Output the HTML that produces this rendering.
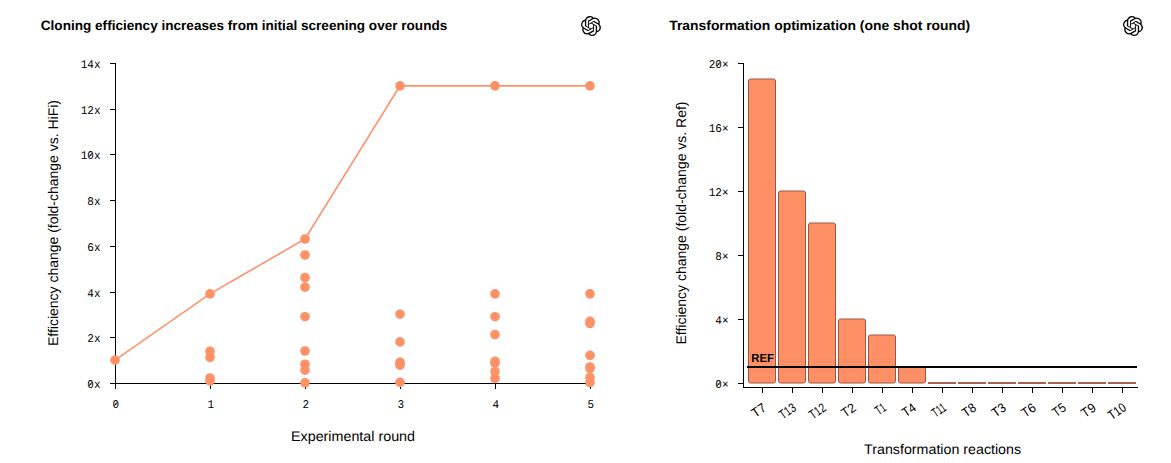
<!DOCTYPE html><html><head><meta charset="utf-8"><style>html,body{margin:0;padding:0;background:#fff;}svg{display:block;text-rendering:geometricPrecision;}</style></head><body>
<svg width="1171" height="463" viewBox="0 0 1171 463">
<rect width="1171" height="463" fill="#fff"/>
<text x="40.8" y="29.8" font-family='"Liberation Sans", sans-serif' font-weight="bold" font-size="13.5" fill="#000" textLength="406.5" lengthAdjust="spacingAndGlyphs">Cloning efficiency increases from initial screening over rounds</text>
<text x="669.2" y="29.8" font-family='"Liberation Sans", sans-serif' font-weight="bold" font-size="13.5" fill="#000" textLength="301" lengthAdjust="spacingAndGlyphs">Transformation optimization (one shot round)</text>
<g transform="translate(581,16) scale(0.8333)"><path d="M22.2819 9.8211a5.9847 5.9847 0 0 0-.5157-4.9108 6.0462 6.0462 0 0 0-6.5098-2.9A6.0651 6.0651 0 0 0 4.9807 4.1818a5.9847 5.9847 0 0 0-3.9977 2.9 6.0462 6.0462 0 0 0 .7427 7.0966 5.98 5.98 0 0 0 .511 4.9107 6.051 6.051 0 0 0 6.5146 2.9001A5.9847 5.9847 0 0 0 13.2599 24a6.0557 6.0557 0 0 0 5.7718-4.2058 5.9894 5.9894 0 0 0 3.9977-2.9001 6.0557 6.0557 0 0 0-.7475-7.0729zm-9.022 12.6081a4.4755 4.4755 0 0 1-2.8764-1.0408l.1419-.0804 4.7783-2.7582a.7948.7948 0 0 0 .3927-.6813v-6.7369l2.02 1.1686a.071.071 0 0 1 .038.052v5.5826a4.504 4.504 0 0 1-4.4945 4.4944zm-9.6607-4.1254a4.4708 4.4708 0 0 1-.5346-3.0137l.142.0852 4.783 2.7582a.7712.7712 0 0 0 .7806 0l5.8428-3.3685v2.3324a.0804.0804 0 0 1-.0332.0615L9.74 19.9502a4.4992 4.4992 0 0 1-6.1408-1.6464zM2.3408 7.8956a4.485 4.485 0 0 1 2.3655-1.9728V11.6a.7664.7664 0 0 0 .3879.6765l5.8144 3.3543-2.0201 1.1685a.0757.0757 0 0 1-.071 0l-4.8303-2.7865A4.504 4.504 0 0 1 2.3408 7.872zm16.5963 3.8558L13.1038 8.364 15.1192 7.2a.0757.0757 0 0 1 .071 0l4.8303 2.7913a4.4944 4.4944 0 0 1-.6765 8.1042v-5.6772a.79.79 0 0 0-.407-.667zm2.0107-3.0231l-.142-.0852-4.7735-2.7818a.7759.7759 0 0 0-.7854 0L9.409 9.2297V6.8974a.0662.0662 0 0 1 .0284-.0615l4.8303-2.7866a4.4992 4.4992 0 0 1 6.6802 4.66zM8.3065 12.863l-2.02-1.1638a.0804.0804 0 0 1-.038-.0567V6.0742a4.4992 4.4992 0 0 1 7.3757-3.4537l-.142.0805L8.704 5.459a.7948.7948 0 0 0-.3927.6813zm1.0976-2.3654l2.602-1.4998 2.6069 1.4998v2.9994l-2.5974 1.4997-2.6067-1.4997Z" fill="#000"/></g>
<g transform="translate(1123,16) scale(0.8333)"><path d="M22.2819 9.8211a5.9847 5.9847 0 0 0-.5157-4.9108 6.0462 6.0462 0 0 0-6.5098-2.9A6.0651 6.0651 0 0 0 4.9807 4.1818a5.9847 5.9847 0 0 0-3.9977 2.9 6.0462 6.0462 0 0 0 .7427 7.0966 5.98 5.98 0 0 0 .511 4.9107 6.051 6.051 0 0 0 6.5146 2.9001A5.9847 5.9847 0 0 0 13.2599 24a6.0557 6.0557 0 0 0 5.7718-4.2058 5.9894 5.9894 0 0 0 3.9977-2.9001 6.0557 6.0557 0 0 0-.7475-7.0729zm-9.022 12.6081a4.4755 4.4755 0 0 1-2.8764-1.0408l.1419-.0804 4.7783-2.7582a.7948.7948 0 0 0 .3927-.6813v-6.7369l2.02 1.1686a.071.071 0 0 1 .038.052v5.5826a4.504 4.504 0 0 1-4.4945 4.4944zm-9.6607-4.1254a4.4708 4.4708 0 0 1-.5346-3.0137l.142.0852 4.783 2.7582a.7712.7712 0 0 0 .7806 0l5.8428-3.3685v2.3324a.0804.0804 0 0 1-.0332.0615L9.74 19.9502a4.4992 4.4992 0 0 1-6.1408-1.6464zM2.3408 7.8956a4.485 4.485 0 0 1 2.3655-1.9728V11.6a.7664.7664 0 0 0 .3879.6765l5.8144 3.3543-2.0201 1.1685a.0757.0757 0 0 1-.071 0l-4.8303-2.7865A4.504 4.504 0 0 1 2.3408 7.872zm16.5963 3.8558L13.1038 8.364 15.1192 7.2a.0757.0757 0 0 1 .071 0l4.8303 2.7913a4.4944 4.4944 0 0 1-.6765 8.1042v-5.6772a.79.79 0 0 0-.407-.667zm2.0107-3.0231l-.142-.0852-4.7735-2.7818a.7759.7759 0 0 0-.7854 0L9.409 9.2297V6.8974a.0662.0662 0 0 1 .0284-.0615l4.8303-2.7866a4.4992 4.4992 0 0 1 6.6802 4.66zM8.3065 12.863l-2.02-1.1638a.0804.0804 0 0 1-.038-.0567V6.0742a4.4992 4.4992 0 0 1 7.3757-3.4537l-.142.0805L8.704 5.459a.7948.7948 0 0 0-.3927.6813zm1.0976-2.3654l2.602-1.4998 2.6069 1.4998v2.9994l-2.5974 1.4997-2.6067-1.4997Z" fill="#000"/></g>
<g stroke="#000" stroke-width="1" fill="none" shape-rendering="crispEdges">
<path d="M115.5,63V383.5H590"/>
<path d="M110,383.5H115"/>
<path d="M110,337.5H115"/>
<path d="M110,292.5H115"/>
<path d="M110,246.5H115"/>
<path d="M110,200.5H115"/>
<path d="M110,154.5H115"/>
<path d="M110,109.5H115"/>
<path d="M110,63.5H115"/>
<path d="M115.5,383V389"/>
<path d="M210.5,383V389"/>
<path d="M305.5,383V389"/>
<path d="M400.5,383V389"/>
<path d="M495.5,383V389"/>
<path d="M590.5,383V389"/>
</g>
<g font-family='"Liberation Mono", monospace' font-size="11.8" fill="#000" text-anchor="end">
<text x="100.5" y="388.0" textLength="13.2" lengthAdjust="spacingAndGlyphs">0x</text>
<text x="100.5" y="342.0" textLength="13.2" lengthAdjust="spacingAndGlyphs">2x</text>
<text x="100.5" y="297.0" textLength="13.2" lengthAdjust="spacingAndGlyphs">4x</text>
<text x="100.5" y="251.0" textLength="13.2" lengthAdjust="spacingAndGlyphs">6x</text>
<text x="100.5" y="205.0" textLength="13.2" lengthAdjust="spacingAndGlyphs">8x</text>
<text x="100.5" y="159.0" textLength="19.8" lengthAdjust="spacingAndGlyphs">10x</text>
<text x="100.5" y="114.0" textLength="19.8" lengthAdjust="spacingAndGlyphs">12x</text>
<text x="100.5" y="68.0" textLength="19.8" lengthAdjust="spacingAndGlyphs">14x</text>
</g>
<g font-family='"Liberation Mono", monospace' font-size="11.8" fill="#000" text-anchor="middle">
<text x="115.7" y="408" textLength="6.6" lengthAdjust="spacingAndGlyphs">0</text>
<text x="210.7" y="408" textLength="6.6" lengthAdjust="spacingAndGlyphs">1</text>
<text x="305.7" y="408" textLength="6.6" lengthAdjust="spacingAndGlyphs">2</text>
<text x="400.7" y="408" textLength="6.6" lengthAdjust="spacingAndGlyphs">3</text>
<text x="495.7" y="408" textLength="6.6" lengthAdjust="spacingAndGlyphs">4</text>
<text x="590.7" y="408" textLength="6.6" lengthAdjust="spacingAndGlyphs">5</text>
</g>
<text x="353" y="440.8" font-family='"Liberation Sans", sans-serif' font-size="14" fill="#000" text-anchor="middle" textLength="124" lengthAdjust="spacingAndGlyphs">Experimental round</text>
<text transform="translate(58,223) rotate(-90)" font-family='"Liberation Sans", sans-serif' font-size="14" fill="#000" text-anchor="middle" textLength="246" lengthAdjust="spacingAndGlyphs">Efficiency change (fold-change vs. HiFi)</text>
<polyline points="115,360.14 210,293.86 305,239.00 400,85.86 495,85.86 590,85.86" fill="none" stroke="#FF9167" stroke-width="1.6"/>
<g fill="#FF9167">
<circle cx="115" cy="360.14" r="4.8"/>
<circle cx="210" cy="293.86" r="4.8"/>
<circle cx="210" cy="351.23" r="4.8"/>
<circle cx="210" cy="357.40" r="4.8"/>
<circle cx="210" cy="377.97" r="4.8"/>
<circle cx="210" cy="380.94" r="4.8"/>
<circle cx="305" cy="239.00" r="4.8"/>
<circle cx="305" cy="255.00" r="4.8"/>
<circle cx="305" cy="277.63" r="4.8"/>
<circle cx="305" cy="287.23" r="4.8"/>
<circle cx="305" cy="316.71" r="4.8"/>
<circle cx="305" cy="351.00" r="4.8"/>
<circle cx="305" cy="364.26" r="4.8"/>
<circle cx="305" cy="370.20" r="4.8"/>
<circle cx="305" cy="382.77" r="4.8"/>
<circle cx="400" cy="85.86" r="4.8"/>
<circle cx="400" cy="314.20" r="4.8"/>
<circle cx="400" cy="341.86" r="4.8"/>
<circle cx="400" cy="362.20" r="4.8"/>
<circle cx="400" cy="365.17" r="4.8"/>
<circle cx="400" cy="382.31" r="4.8"/>
<circle cx="495" cy="85.86" r="4.8"/>
<circle cx="495" cy="293.86" r="4.8"/>
<circle cx="495" cy="316.71" r="4.8"/>
<circle cx="495" cy="334.54" r="4.8"/>
<circle cx="495" cy="361.29" r="4.8"/>
<circle cx="495" cy="363.34" r="4.8"/>
<circle cx="495" cy="371.57" r="4.8"/>
<circle cx="495" cy="378.43" r="4.8"/>
<circle cx="590" cy="85.86" r="4.8"/>
<circle cx="590" cy="293.86" r="4.8"/>
<circle cx="590" cy="321.29" r="4.8"/>
<circle cx="590" cy="323.57" r="4.8"/>
<circle cx="590" cy="355.34" r="4.8"/>
<circle cx="590" cy="367.00" r="4.8"/>
<circle cx="590" cy="368.37" r="4.8"/>
<circle cx="590" cy="377.29" r="4.8"/>
<circle cx="590" cy="382.54" r="4.8"/>
</g>
<g stroke="#000" stroke-width="1" fill="none" shape-rendering="crispEdges">
<path d="M743.5,63V387.5H1138"/>
<path d="M738,63.5H743"/>
<path d="M738,127.5H743"/>
<path d="M738,191.5H743"/>
<path d="M738,255.5H743"/>
<path d="M738,319.5H743"/>
<path d="M738,383.5H743"/>
<path d="M762.5,387V393"/>
<path d="M792.5,387V393"/>
<path d="M822.5,387V393"/>
<path d="M852.5,387V393"/>
<path d="M882.5,387V393"/>
<path d="M912.5,387V393"/>
<path d="M942.5,387V393"/>
<path d="M972.5,387V393"/>
<path d="M1002.5,387V393"/>
<path d="M1032.5,387V393"/>
<path d="M1062.5,387V393"/>
<path d="M1092.5,387V393"/>
<path d="M1122.5,387V393"/>
</g>
<g font-family='"Liberation Mono", monospace' font-size="11.8" fill="#000" text-anchor="end">
<text x="728.5" y="388" textLength="13.2" lengthAdjust="spacingAndGlyphs">0×</text>
<text x="728.5" y="324" textLength="13.2" lengthAdjust="spacingAndGlyphs">4×</text>
<text x="728.5" y="260" textLength="13.2" lengthAdjust="spacingAndGlyphs">8×</text>
<text x="728.5" y="196" textLength="19.8" lengthAdjust="spacingAndGlyphs">12×</text>
<text x="728.5" y="132" textLength="19.8" lengthAdjust="spacingAndGlyphs">16×</text>
<text x="728.5" y="68" textLength="19.8" lengthAdjust="spacingAndGlyphs">20×</text>
</g>
<rect x="748.5" y="79" width="27" height="304" rx="2" fill="#FF9066" stroke="#9A5640" stroke-width="1"/>
<rect x="778.5" y="191" width="27" height="192" rx="2" fill="#FF9066" stroke="#9A5640" stroke-width="1"/>
<rect x="808.5" y="223" width="27" height="160" rx="2" fill="#FF9066" stroke="#9A5640" stroke-width="1"/>
<rect x="838.5" y="319" width="27" height="64" rx="2" fill="#FF9066" stroke="#9A5640" stroke-width="1"/>
<rect x="868.5" y="335" width="27" height="48" rx="2" fill="#FF9066" stroke="#9A5640" stroke-width="1"/>
<rect x="898.5" y="367" width="27" height="16" rx="2" fill="#FF9066" stroke="#9A5640" stroke-width="1"/>
<rect x="928.0" y="382" width="28" height="2" fill="#A86450"/>
<rect x="958.0" y="382" width="28" height="2" fill="#A86450"/>
<rect x="988.0" y="382" width="28" height="2" fill="#A86450"/>
<rect x="1018.0" y="382" width="28" height="2" fill="#A86450"/>
<rect x="1048.0" y="382" width="28" height="2" fill="#A86450"/>
<rect x="1078.0" y="382" width="28" height="2" fill="#A86450"/>
<rect x="1108.0" y="382" width="28" height="2" fill="#A86450"/>
<rect x="747" y="366" width="390" height="2" fill="#000"/>
<text x="751.3" y="362" font-family='"Liberation Sans", sans-serif' font-weight="bold" font-size="11.6" fill="#000" textLength="22.6" lengthAdjust="spacingAndGlyphs">REF</text>
<g font-family='"Liberation Sans", sans-serif' font-size="13.0" fill="#000" text-anchor="end">
<text transform="translate(767.12,409.65000000000003) rotate(-35.0)" textLength="14.58" lengthAdjust="spacingAndGlyphs">T7</text>
<text transform="translate(797.12,409.65000000000003) rotate(-35.0)" textLength="17.52" lengthAdjust="spacingAndGlyphs">T13</text>
<text transform="translate(827.12,409.65000000000003) rotate(-35.0)" textLength="17.52" lengthAdjust="spacingAndGlyphs">T12</text>
<text transform="translate(857.12,409.65000000000003) rotate(-35.0)" textLength="14.78" lengthAdjust="spacingAndGlyphs">T2</text>
<text transform="translate(887.12,409.65000000000003) rotate(-35.0)" textLength="10.09" lengthAdjust="spacingAndGlyphs">T1</text>
<text transform="translate(917.12,409.65000000000003) rotate(-35.0)" textLength="13.80" lengthAdjust="spacingAndGlyphs">T4</text>
<text transform="translate(947.12,409.65000000000003) rotate(-35.0)" textLength="14.21" lengthAdjust="spacingAndGlyphs">T11</text>
<text transform="translate(977.12,409.65000000000003) rotate(-35.0)" textLength="14.00" lengthAdjust="spacingAndGlyphs">T8</text>
<text transform="translate(1007.12,409.65000000000003) rotate(-35.0)" textLength="14.19" lengthAdjust="spacingAndGlyphs">T3</text>
<text transform="translate(1037.12,409.65000000000003) rotate(-35.0)" textLength="14.78" lengthAdjust="spacingAndGlyphs">T6</text>
<text transform="translate(1067.12,409.65000000000003) rotate(-35.0)" textLength="13.61" lengthAdjust="spacingAndGlyphs">T5</text>
<text transform="translate(1097.12,409.65000000000003) rotate(-35.0)" textLength="14.97" lengthAdjust="spacingAndGlyphs">T9</text>
<text transform="translate(1127.12,409.65000000000003) rotate(-35.0)" textLength="18.69" lengthAdjust="spacingAndGlyphs">T10</text>
</g>
<text x="942.6" y="453.8" font-family='"Liberation Sans", sans-serif' font-size="14" fill="#000" text-anchor="middle" textLength="157" lengthAdjust="spacingAndGlyphs">Transformation reactions</text>
<text transform="translate(685.5,223) rotate(-90)" font-family='"Liberation Sans", sans-serif' font-size="14" fill="#000" text-anchor="middle" textLength="243" lengthAdjust="spacingAndGlyphs">Efficiency change (fold-change vs. Ref)</text>
<g stroke="#000" stroke-width="0.9" fill="none"><path d="M89.20,385.95L92.00,382.15"/><path d="M89.20,156.95L92.00,153.15"/><path d="M114.30,405.95L117.10,402.15"/><path d="M717.20,385.95L720.00,382.15"/><path d="M717.20,65.95L720.00,62.15"/></g>
</svg></body></html>
